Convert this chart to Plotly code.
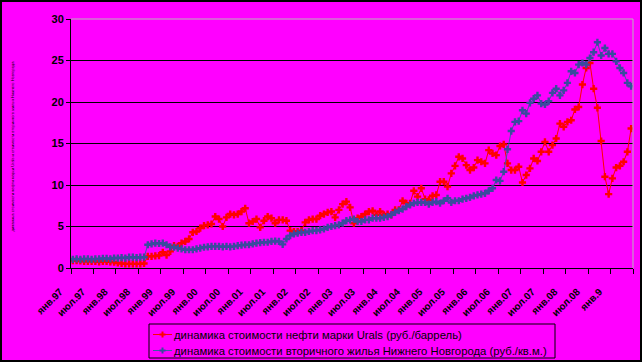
import plotly.graph_objects as go

# monthly categories Jan 1997 .. Jun 2009
month_names = ["янв", "фев", "мар", "апр", "май", "июн", "июл", "авг", "сен", "окт", "ноя", "дек"]
categories = [f"{month_names[m]}.{str(y)[2:]}" for y in range(1997, 2010) for m in range(12)][:150]

tick_labels = ["янв.97", "июл.97", "янв.98", "июл.98", "янв.99", "июл.99", "янв.00", "июл.00",
               "янв.01", "июл.01", "янв.02", "июл.02", "янв.03", "июл.03", "янв.04", "июл.04",
               "янв.05", "июл.05", "янв.06", "июл.06", "янв.07", "июл.07", "янв.08", "июл.08", "янв.9"]

urals = [0.9, 0.9, 0.85, 0.8, 0.8, 0.8, 0.8, 0.75, 0.8, 0.8, 0.75, 0.7,
         0.6, 0.55, 0.5, 0.5, 0.5, 0.5, 0.5, 0.55, 1.4, 1.4, 1.45, 1.5,
         1.9, 1.55, 2.0, 2.7, 2.6, 3.0, 3.2, 3.5, 4.3, 4.4, 4.8, 5.1,
         5.2, 5.3, 6.2, 5.9, 5.0, 6.1, 6.5, 6.4, 6.5, 6.8, 7.2, 5.4,
         5.6, 5.9, 4.9, 5.7, 6.2, 6.0, 5.4, 5.8, 5.8, 5.7, 4.5, 4.4,
         4.4, 4.5, 5.5, 5.8, 5.9, 5.9, 6.3, 6.5, 6.7, 6.8, 6.1, 7.0,
         7.7, 8.0, 7.3, 5.4, 6.0, 6.2, 6.5, 6.8, 6.9, 6.4, 6.8, 6.4,
         6.5, 6.4, 7.0, 7.0, 8.1, 7.8, 7.8, 9.3, 8.6, 9.6, 8.3, 8.2,
         8.7, 8.8, 10.4, 10.4, 9.8, 11.4, 12.3, 13.4, 13.2, 12.4, 11.8, 12.1,
         13.0, 12.8, 12.6, 14.2, 13.8, 13.6, 14.7, 14.9, 12.6, 11.8, 11.8, 12.2,
         10.3, 11.2, 12.0, 13.2, 12.9, 14.0, 15.2, 14.0, 14.8, 15.6, 17.4, 17.0,
         17.6, 17.8, 19.1, 19.4, 22.1, 24.1, 24.7, 21.6, 19.3, 15.3, 11.0, 8.9,
         10.8, 12.1, 12.3, 12.8, 14.0, 16.8]

housing = [1.05, 1.1, 1.05, 1.1, 1.1, 1.05, 1.1, 1.1, 1.15, 1.15, 1.1, 1.2,
           1.2, 1.25, 1.2, 1.3, 1.3, 1.25, 1.3, 1.3, 2.8, 2.9, 3.0, 2.95,
           3.0, 2.8, 2.55, 2.5, 2.4, 2.3, 2.2, 2.2, 2.2, 2.3, 2.4, 2.5,
           2.55, 2.6, 2.6, 2.6, 2.55, 2.6, 2.55, 2.6, 2.7, 2.75, 2.8, 2.8,
           2.9, 3.0, 3.05, 3.1, 3.1, 3.2, 3.25, 3.2, 2.85, 3.5, 3.9, 4.1,
           4.2, 4.3, 4.3, 4.4, 4.5, 4.5, 4.6, 4.7, 4.9, 5.0, 5.1, 5.2,
           5.4, 5.7, 5.8, 5.9, 5.6, 5.6, 5.8, 5.8, 6.0, 6.0, 6.0, 6.1,
           6.2, 6.4, 6.7, 6.9, 7.1, 7.4, 7.6, 7.8, 7.9, 7.9, 7.9, 7.7,
           7.9, 8.0, 7.8, 8.1, 8.4, 7.9, 8.1, 8.1, 8.3, 8.4, 8.5, 8.7,
           8.8, 8.9, 9.0, 9.3, 9.6, 10.6, 10.5, 11.6, 14.3, 16.5, 17.6, 17.7,
           19.0, 18.6, 19.9, 20.4, 20.8, 19.8, 19.7, 20.1, 21.1, 21.6, 20.8, 21.4,
           22.3, 23.7, 23.5, 24.5, 24.7, 24.5, 25.3, 26.0, 27.2, 25.6, 26.5, 25.8,
           25.8, 24.9, 24.1, 23.5, 22.3, 21.9]

y_ticks = [0, 5, 10, 15, 20, 25, 30]
grid_vals = [5, 10, 15, 20, 25]

name_oil = "динамика стоимости нефти марки Urals (руб./баррель)"
name_flat = "динамика стоимости вторичного жилья Нижнего Новгорода (руб./кв.м.)"
y_title = "динамика стоимости нефти марки Urals и стоимости вторичного жилья Нижнего Новгорода"

BG = "#FF00FF"
RED = "#FF0000"
BLUE_M = "#3b4a9e"
BLUE_L = "#3a5ea6"
FONT = "Liberation Sans, Arial, sans-serif"

x_idx = list(range(len(categories)))

fig = go.Figure()
fig.add_trace(go.Scatter(
    x=x_idx, y=urals, customdata=categories, name=name_oil, mode="lines+markers",
    line=dict(color=RED, width=1),
    marker=dict(symbol="cross", size=6, color=RED, line=dict(width=0)),
    showlegend=False,
))
fig.add_trace(go.Scatter(
    x=x_idx, y=housing, customdata=categories, name=name_flat, mode="lines+markers",
    line=dict(color=BLUE_L, width=1),
    marker=dict(symbol="cross", size=6, color=BLUE_M, line=dict(width=0)),
    showlegend=False,
))

L, R, T, B = 71, 9, 19, 94
W, H = 642, 362
pw, ph = W - L - R, H - T - B


def px(p):
    return (p - L) / pw


def py(p):
    return ((H - B) - p) / ph


fig.update_layout(
    width=W, height=H,
    margin=dict(l=L, r=R, t=T, b=B, pad=0, autoexpand=False),
    paper_bgcolor=BG, plot_bgcolor=BG,
    font=dict(family=FONT, color="black"),
    showlegend=False,
)

fig.update_xaxes(
    range=[-0.5, len(categories) - 0.5],
    tickmode="array",
    tickvals=[-0.5 + 6 * i for i in range(26)],
    ticktext=tick_labels + [""],
    tickangle=-45,
    ticks="outside", ticklen=5, tickcolor="black", tickwidth=1,
    showline=True, linecolor="black", linewidth=1,
    showgrid=False, zeroline=False, automargin=False,
    ticklabelshift=-11, ticklabelstandoff=8,
    tickfont=dict(family=FONT, size=10, color="black", weight="bold"),
)
fig.update_yaxes(
    range=[0, 30],
    tickmode="array", tickvals=y_ticks,
    ticks="outside", ticklen=4, tickcolor="black", tickwidth=1,
    showline=True, linecolor="black", linewidth=1,
    showgrid=False, zeroline=False, automargin=False,
    minor=dict(tickmode="array", tickvals=grid_vals, showgrid=True,
               gridcolor="black", gridwidth=1, ticks=""),
    tickfont=dict(family=FONT, size=11, color="black", weight="bold"),
)

# plot-area border (top/right) and outer chart frame
fig.add_shape(type="line", xref="paper", yref="paper", x0=0, x1=1, y0=1, y1=1,
              line=dict(color="#b8b8b8", width=1))
fig.add_shape(type="line", xref="paper", yref="paper", x0=1, x1=1, y0=0, y1=1,
              line=dict(color="#b8b8b8", width=1))
fig.add_shape(type="rect", xref="paper", yref="paper",
              x0=px(1), x1=px(W - 1), y0=py(H - 1), y1=py(1),
              line=dict(color="black", width=2), fillcolor="rgba(0,0,0,0)")

# custom legend (box, sample lines, markers, labels)
fig.add_shape(type="rect", xref="paper", yref="paper",
              x0=px(149), x1=px(555), y0=py(358), y1=py(324),
              line=dict(color="black", width=1), fillcolor=BG)
legend_rows = [(334.5, RED, RED, name_oil), (350.5, BLUE_L, BLUE_M, name_flat)]
for yy, lc, mc, txt in legend_rows:
    fig.add_shape(type="line", xref="paper", yref="paper",
                  x0=px(153), x1=px(172), y0=py(yy), y1=py(yy),
                  line=dict(color=lc, width=1))
    fig.add_shape(type="rect", xref="paper", yref="paper",
                  x0=px(159.5), x1=px(165.5), y0=py(yy + 1), y1=py(yy - 1),
                  line=dict(width=0), fillcolor=mc)
    fig.add_shape(type="rect", xref="paper", yref="paper",
                  x0=px(161.5), x1=px(163.5), y0=py(yy + 3), y1=py(yy - 3),
                  line=dict(width=0), fillcolor=mc)
    fig.add_annotation(text=txt, xref="paper", yref="paper", x=px(172), y=py(yy),
                       xanchor="left", yanchor="middle", showarrow=False,
                       font=dict(family=FONT, size=11.3, color="black"))

fig.add_annotation(
    text=y_title, textangle=-90, xref="paper", yref="paper",
    x=px(7), y=py(146), showarrow=False,
    font=dict(family=FONT, size=4, color="black"),
)

fig.write_html("out.html", config={"displayModeBar": False},
               post_script="document.body.style.margin='0';document.body.style.background='#FF00FF';")
